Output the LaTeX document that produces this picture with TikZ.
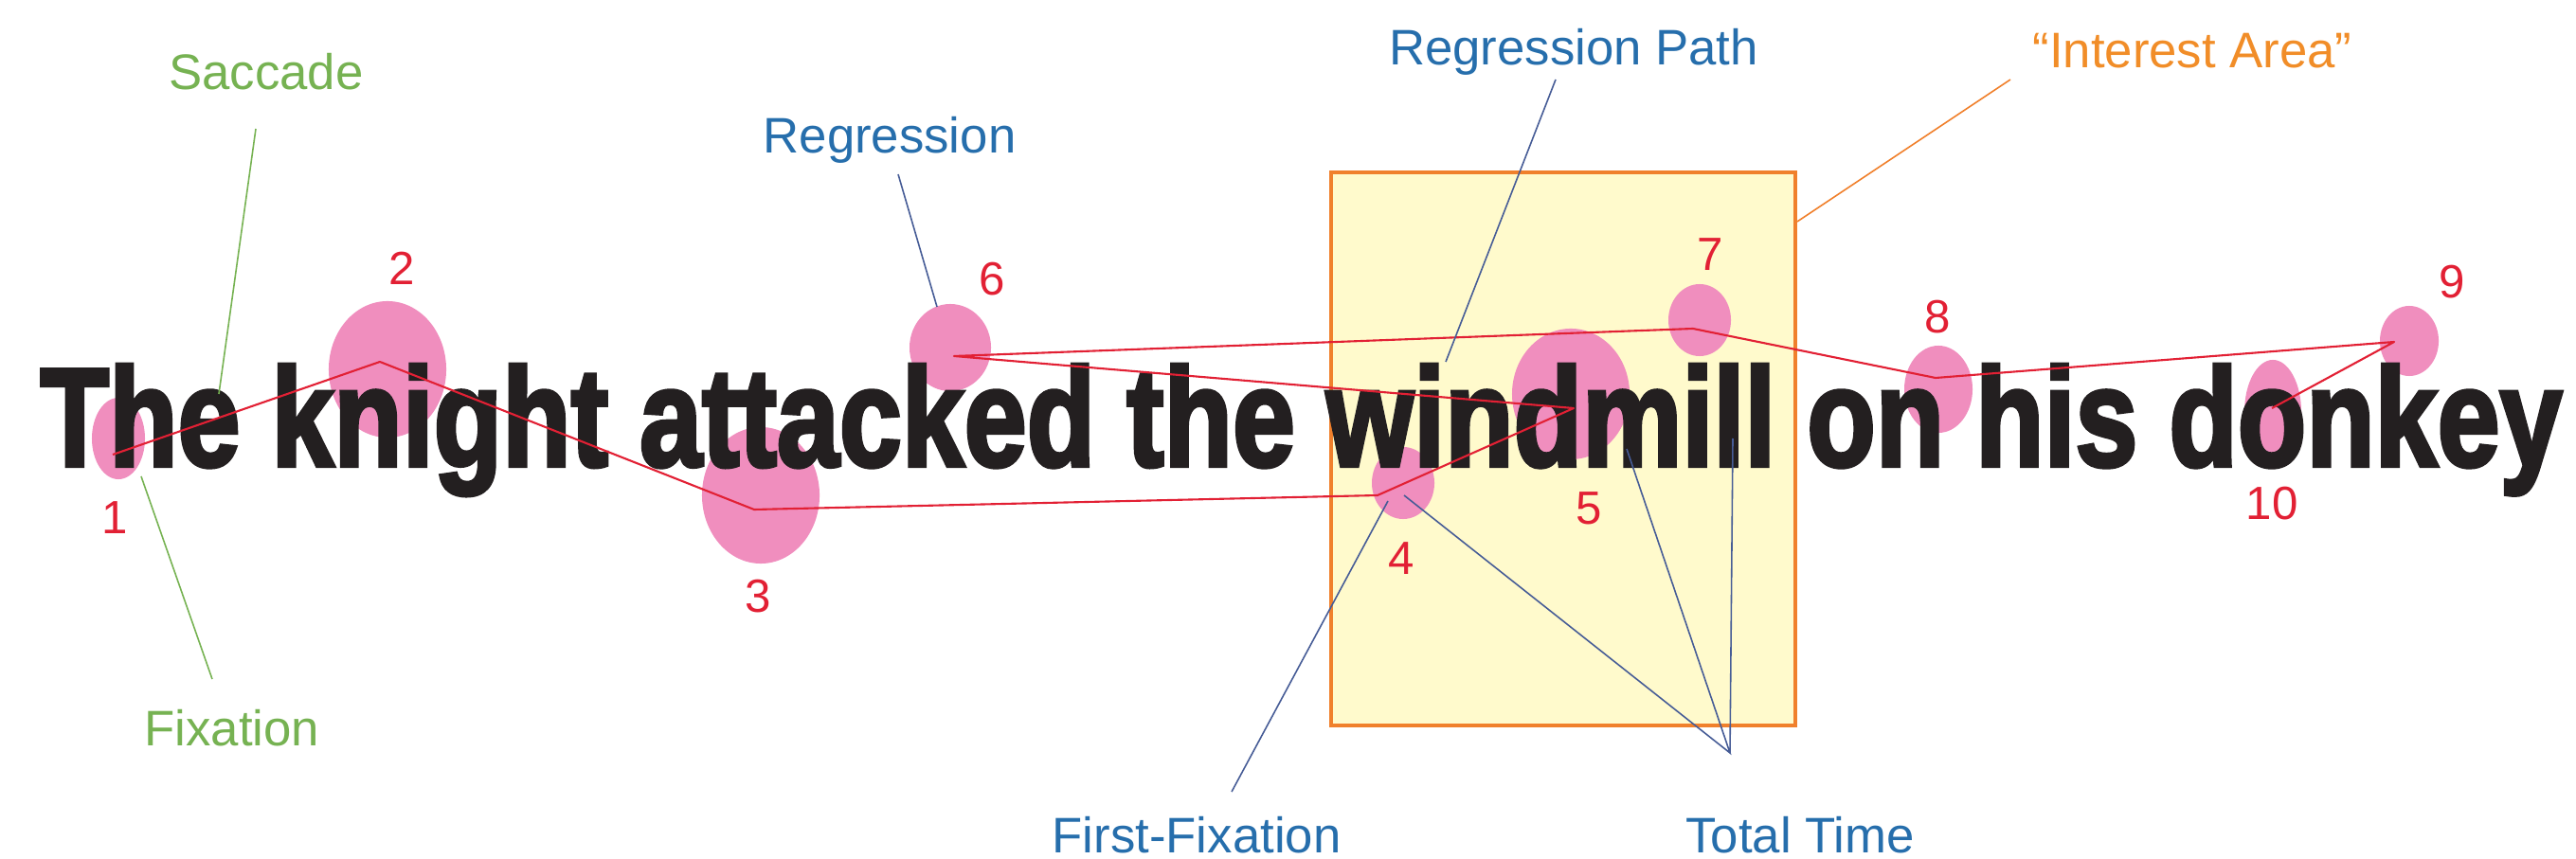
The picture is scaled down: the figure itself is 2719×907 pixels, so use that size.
\documentclass[tikz,border=0pt]{standalone}
\usepackage{fontspec}
\setmainfont{Liberation Sans}
\newfontfamily\frasefont{Liberation Sans}[BoldFeatures={FakeBold=3}]
\usetikzlibrary{shapes.geometric}
\definecolor{rosafix}{RGB}{240,142,190}
\definecolor{rossopath}{RGB}{226,32,52}
\definecolor{verdelab}{RGB}{118,178,82}
\definecolor{blulab}{RGB}{38,110,172}
\definecolor{bluguida}{RGB}{70,92,150}
\definecolor{arancio}{RGB}{240,128,44}
\definecolor{giallo}{RGB}{255,250,204}
\definecolor{nerofrase}{RGB}{35,31,32}

\begin{document}
\begin{tikzpicture}[x=0.01cm, y=-0.01cm, font=\fontsize{15}{18}\selectfont,
  fix/.style={ellipse, fill=rosafix, inner sep=0pt},
  num/.style={text=rossopath, inner sep=0pt, font=\fontsize{14}{16}\selectfont},
  etic/.style={anchor=base, inner sep=0pt},
  guida/.style={line width=0.45pt},
  scan/.style={rossopath, line width=0.6pt, line join=round}]
\useasboundingbox (0,0) rectangle (2719,907);
% area di interesse
\node[draw=arancio, fill=giallo, line width=1.1pt, minimum width=4.89cm, minimum height=5.84cm] (area) at (1650,474) {};
% fissazioni
\node[fix, minimum width=0.56cm, minimum height=0.86cm] (e1) at (125,463) {};
\node[fix, minimum width=1.24cm, minimum height=1.44cm] (e2) at (409,390) {};
\node[fix, minimum width=1.24cm, minimum height=1.44cm] (e3) at (803,523) {};
\node[fix, minimum width=0.66cm, minimum height=0.76cm] (e4) at (1481,510) {};
\node[fix, minimum width=1.24cm, minimum height=1.38cm] (e5) at (1658,416) {};
\node[fix, minimum width=0.86cm, minimum height=0.92cm] (e6) at (1003,367) {};
\node[fix, minimum width=0.66cm, minimum height=0.76cm] (e7) at (1794,338) {};
\node[fix, minimum width=0.72cm, minimum height=0.92cm] (e8) at (2046,411) {};
\node[fix, minimum width=0.62cm, minimum height=0.74cm] (e9) at (2543,360) {};
\node[fix, minimum width=0.60cm, minimum height=1.10cm] (e10) at (2399,435) {};
\node[num] (n1) at (121,547) {1};
\node[num] (n2) at (424,283) {2};
\node[num] (n3) at (800,630) {3};
\node[num] (n4) at (1479,590) {4};
\node[num] (n5) at (1677,537) {5};
\node[num] (n6) at (1047,295) {6};
\node[num] (n7) at (1805,269) {7};
\node[num] (n8) at (2045,335) {8};
\node[num] (n9) at (2588,298) {9};
\node[num] (n10) at (2398,532) {10};
% frase
\node[anchor=base west, inner sep=0pt, text=nerofrase] (frase) at (42,492)
  {\resizebox{26.6cm}{1.07cm}{\frasefont\bfseries The knight attacked the windmill on his donkey}};
% percorso
\coordinate (f1) at (119,480);  \coordinate (f2) at (401,382);
\coordinate (f3) at (796,538);  \coordinate (f4) at (1454,523);
\coordinate (f5) at (1661,431); \coordinate (f6) at (1007,376);
\coordinate (f7) at (1787,347); \coordinate (f8) at (2043,399);
\coordinate (f9) at (2527,361); \coordinate (f10) at (2398,431);
\draw[scan] (f1) -- (f2) -- (f3) -- (f4) -- (f5) -- (f6) -- (f7) -- (f8) -- (f9) -- (f10);
% etichette
\node[etic, text=verdelab] (sacc) at (281,95) {Saccade};
\node[etic, text=verdelab] (fixa) at (245,787) {Fixation};
\node[etic, text=blulab] (regr) at (939,162) {Regression};
\node[etic, text=blulab] (regp) at (1661,69) {Regression Path};
\node[etic, text=arancio!90!yellow] (inte) at (2314,72) {``Interest Area''};
\node[etic, text=blulab] (first) at (1263,900) {First-Fixation};
\node[etic, text=blulab] (total) at (1900,900) {Total Time};
\coordinate (sa) at (270,136);  \coordinate (sb) at (231,416);
\coordinate (fa) at (224,717);  \coordinate (fb) at (149,503);
\coordinate (ra) at (948,184);  \coordinate (rb) at (989,324);
\coordinate (pa) at (1642,84);  \coordinate (pb) at (1526,382);
\coordinate (ia) at (2122,84);  \coordinate (ib) at (1897,234);
\coordinate (ffa) at (1300,836); \coordinate (ffb) at (1465,529);
\coordinate (tt) at (1826,795);
\coordinate (t4) at (1482,523); \coordinate (t5) at (1717,474); \coordinate (tl) at (1829,463);
\draw[guida, verdelab] (sa) -- (sb);
\draw[guida, verdelab] (fa) -- (fb);
\draw[guida, bluguida] (ra) -- (rb);
\draw[guida, bluguida] (pa) -- (pb);
\draw[guida, arancio] (ia) -- (ib);
\draw[guida, bluguida] (ffa) -- (ffb);
\draw[guida, bluguida] (t4) -- (tt) -- (t5) (tt) -- (tl);
\end{tikzpicture}
\end{document}
